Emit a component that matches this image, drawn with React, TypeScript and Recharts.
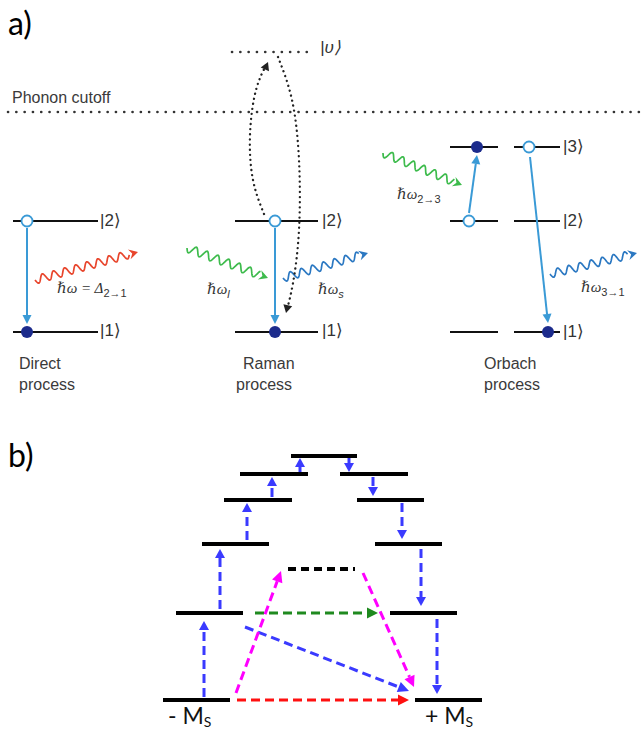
import { ComposedChart, XAxis, YAxis, Scatter, ReferenceLine } from "recharts"

// a) relaxation processes
const cutoffLine = { x1: 8, x2: 641, y: 112 }
const virtualLevel = { x1: 232, x2: 315, y: 52 }

const levelsA = [
  { x1: 13, x2: 98, y: 221 }, { x1: 13, x2: 98, y: 332 },
  { x1: 235, x2: 318, y: 221 }, { x1: 235, x2: 318, y: 332 },
  { x1: 450, x2: 498, y: 147 }, { x1: 514, x2: 560, y: 147 },
  { x1: 450, x2: 498, y: 221 }, { x1: 514, x2: 560, y: 221 },
  { x1: 450, x2: 498, y: 332 }, { x1: 514, x2: 560, y: 332 },
]

const kets = [
  { x: 100, y: 220, text: "|2⟩" }, { x: 100, y: 330, text: "|1⟩" },
  { x: 322, y: 220, text: "|2⟩" }, { x: 322, y: 330, text: "|1⟩" },
  { x: 563, y: 146, text: "|3⟩" }, { x: 563, y: 220, text: "|2⟩" },
  { x: 563, y: 331, text: "|1⟩" }, { x: 320, y: 47, text: "|υ⟩" },
]

const emptyStates = [
  { x: 27, y: 221 }, { x: 275, y: 221 }, { x: 469, y: 221 }, { x: 529, y: 147 },
]
const filledStates = [
  { x: 27, y: 332 }, { x: 275, y: 332 }, { x: 477, y: 147 }, { x: 548, y: 332 },
]

const decays = [
  { x1: 27, y1: 228, x2: 27, y2: 324 },
  { x1: 275, y1: 228, x2: 275, y2: 324 },
  { x1: 469, y1: 213, x2: 477, y2: 155 },
  { x1: 530, y1: 157, x2: 548, y2: 323 },
]

const phononOut = [{ x1: 35, y1: 280, x2: 138, y2: 252 }]
const photonsIn = [
  { x1: 187, y1: 248, x2: 268, y2: 278 },
  { x1: 383, y1: 153, x2: 462, y2: 185 },
]
const photonsOut = [
  { x1: 283, y1: 278, x2: 368, y2: 253 },
  { x1: 550, y1: 274, x2: 637, y2: 253 },
]

const loopUp = [
  { x: 264, y: 214 }, { x: 253, y: 180 }, { x: 250, y: 135 }, { x: 256, y: 90 }, { x: 268, y: 62 },
]
const loopDown = [
  { x: 278, y: 57 }, { x: 292, y: 100 }, { x: 299, y: 160 }, { x: 299, y: 230 }, { x: 293, y: 283 }, { x: 286, y: 313 },
]

const photonLabels = [
  { x: 57, y: 293, main: "ℏω = Δ", sub: "2→1" },
  { x: 207, y: 294, main: "ℏω", sub: "l" },
  { x: 318, y: 294, main: "ℏω", sub: "s" },
  { x: 397, y: 199, main: "ℏω", sub: "2→3" },
  { x: 581, y: 292, main: "ℏω", sub: "3→1" },
]

const captions = [
  { x: 12, y: 103, text: "Phonon cutoff" },
  { x: 19, y: 369, text: "Direct" }, { x: 19, y: 390, text: "process" },
  { x: 243, y: 369, text: "Raman" }, { x: 236, y: 390, text: "process" },
  { x: 484, y: 369, text: "Orbach" }, { x: 484, y: 390, text: "process" },
]

// b) spin ladder
const spinLevels = [
  { x1: 291, x2: 357, y: 456 },
  { x1: 240, x2: 308, y: 474 }, { x1: 340, x2: 408, y: 474 },
  { x1: 224, x2: 292, y: 500 }, { x1: 357, x2: 424, y: 500 },
  { x1: 202, x2: 269, y: 544 }, { x1: 375, x2: 442, y: 544 },
  { x1: 176, x2: 243, y: 613 }, { x1: 390, x2: 457, y: 613 },
  { x1: 163, x2: 230, y: 700 }, { x1: 415, x2: 482, y: 700 },
]
const virtualSpinLevel = { x1: 288, x2: 355, y: 569 }

const climb = [
  { x1: 204, y1: 697, x2: 204, y2: 621 },
  { x1: 220, y1: 609, x2: 220, y2: 549 },
  { x1: 247, y1: 540, x2: 247, y2: 503 },
  { x1: 272, y1: 497, x2: 272, y2: 477 },
  { x1: 300, y1: 472, x2: 300, y2: 458 },
  { x1: 349, y1: 458, x2: 349, y2: 472 },
  { x1: 373, y1: 477, x2: 373, y2: 496 },
  { x1: 402, y1: 503, x2: 402, y2: 539 },
  { x1: 421, y1: 549, x2: 421, y2: 606 },
  { x1: 437, y1: 619, x2: 437, y2: 694 },
]
const tunnel = [{ x1: 255, y1: 613, x2: 378, y2: 613 }]
const thermalTunnel = [{ x1: 245, y1: 627, x2: 409, y2: 691 }]
const ramanSpin = [
  { x1: 236, y1: 693, x2: 281, y2: 571 },
  { x1: 363, y1: 573, x2: 414, y2: 687 },
]
const directSpin = [{ x1: 237, y1: 700, x2: 409, y2: 700 }]

const msLabels = [
  { x: 168, y: 724, main: "- M", sub: "S" },
  { x: 425, y: 724, main: "+ M", sub: "S" },
]
const panelLabels = [
  { x: 8, y: 35, text: "a)" },
  { x: 8, y: 467, text: "b)" },
]

const seg = (a: any) => [{ x: a.x1, y: a.y1 }, { x: a.x2, y: a.y2 }]
const flat = (a: any) => [{ x: a.x1, y: a.y }, { x: a.x2, y: a.y }]

// straight arrow: shaft + triangular head
const arrow = (len: number, half: number, shaft = true) => (p: any) => {
  const { x1, y1, x2, y2, stroke, strokeWidth, strokeDasharray } = p
  const d = Math.hypot(x2 - x1, y2 - y1) || 1
  const ux = (x2 - x1) / d
  const uy = (y2 - y1) / d
  const bx = x2 - ux * len
  const by = y2 - uy * len
  return (
    <g>
      {shaft && (
        <line x1={x1} y1={y1} x2={bx} y2={by} stroke={stroke}
          strokeWidth={strokeWidth} strokeDasharray={strokeDasharray} />
      )}
      <path
        d={`M${x2},${y2}L${bx - uy * half},${by + ux * half}L${bx + uy * half},${by - ux * half}Z`}
        fill={stroke}
      />
    </g>
  )
}

// wavy photon/phonon arrow
const wave = (p: any) => {
  const { x1, y1, x2, y2, stroke } = p
  const d = Math.hypot(x2 - x1, y2 - y1) || 1
  const ux = (x2 - x1) / d
  const uy = (y2 - y1) / d
  const head = 9
  const run = d - head
  let path = ""
  for (let s = 0; s <= run; s += 0.5) {
    const a = 4 * Math.sin((2 * Math.PI * s) / 11.5)
    path += `${s === 0 ? "M" : "L"}${x1 + ux * s - uy * a},${y1 + uy * s + ux * a}`
  }
  const bx = x2 - ux * head
  const by = y2 - uy * head
  return (
    <g>
      <path d={path} fill="none" stroke={stroke} strokeWidth={1.7} />
      <path
        d={`M${x2},${y2}L${bx - uy * 5},${by + ux * 5}L${bx + ux * 3},${by + uy * 3}L${bx + uy * 5},${by - ux * 5}Z`}
        fill={stroke}
      />
    </g>
  )
}

const sans = "'Liberation Sans', Arial, sans-serif"
const serif = "'Liberation Serif', 'DejaVu Serif', serif"

const MathLabel = (p: any) => (
  <text x={p.cx} y={p.cy} fill="#333" fontFamily={serif} fontSize={15} fontStyle="italic">
    {p.payload.main}
    <tspan dy={4} fontSize={11} fontFamily={sans}
      fontStyle={p.payload.sub.length === 1 ? "italic" : "normal"}>{p.payload.sub}</tspan>
  </text>
)

const MsLabel = (p: any) => (
  <text x={p.cx} y={p.cy} fill="#111" fontFamily="Lato, 'Open Sans', sans-serif" fontSize={23}>
    {p.payload.main}
    <tspan dy={3} fontSize={14}>{p.payload.sub}</tspan>
  </text>
)

const BLUE_A = "#3a9ad6"
const NAVY = "#1c2b8c"
const BLUE_B = "#3a3aff"

export default function App() {
  return (
    <div style={{ width: 641, height: 733, background: "#fff" }}>
      <style>{`body{margin:0}`}</style>
      <ComposedChart width={641} height={733} margin={{ top: 0, right: 0, bottom: 0, left: 0 }}>
        <XAxis type="number" dataKey="x" domain={[0, 641]} allowDataOverflow hide />
        <YAxis type="number" dataKey="y" domain={[0, 733]} allowDataOverflow reversed hide />

        <ReferenceLine segment={flat(cutoffLine)} stroke="#333" strokeWidth={2.6}
          strokeDasharray="0.1 8.2" strokeLinecap="round" />
        <ReferenceLine segment={flat(virtualLevel)} stroke="#333" strokeWidth={2.6}
          strokeDasharray="0.1 8.2" strokeLinecap="round" />

        {levelsA.map((l, i) => (
          <ReferenceLine key={`la${i}`} segment={flat(l)} stroke="#111" strokeWidth={2} />
        ))}

        <Scatter data={loopUp} isAnimationActive={false} lineJointType="natural" shape={() => <g />}
          line={{ stroke: "#222", strokeWidth: 2.3, strokeDasharray: "0.1 5", strokeLinecap: "round" }} />
        <Scatter data={loopDown} isAnimationActive={false} lineJointType="natural" shape={() => <g />}
          line={{ stroke: "#222", strokeWidth: 2.3, strokeDasharray: "0.1 5", strokeLinecap: "round" }} />
        <ReferenceLine segment={[loopUp[loopUp.length - 2], loopUp[loopUp.length - 1]]}
          stroke="#222" shape={arrow(8, 4.5, false)} />
        <ReferenceLine segment={[loopDown[loopDown.length - 2], loopDown[loopDown.length - 1]]}
          stroke="#222" shape={arrow(8, 4.5, false)} />

        {decays.map((a, i) => (
          <ReferenceLine key={`dc${i}`} segment={seg(a)} stroke={BLUE_A} strokeWidth={2} shape={arrow(9, 4.5)} />
        ))}
        {phononOut.map((a, i) => (
          <ReferenceLine key={`ph${i}`} segment={seg(a)} stroke="#e8452c" shape={wave} />
        ))}
        {photonsIn.map((a, i) => (
          <ReferenceLine key={`pi${i}`} segment={seg(a)} stroke="#3dbb4c" shape={wave} />
        ))}
        {photonsOut.map((a, i) => (
          <ReferenceLine key={`po${i}`} segment={seg(a)} stroke="#2b78c2" shape={wave} />
        ))}

        {spinLevels.map((l, i) => (
          <ReferenceLine key={`sl${i}`} segment={flat(l)} stroke="#000" strokeWidth={4} />
        ))}
        <ReferenceLine segment={flat(virtualSpinLevel)} stroke="#000" strokeWidth={4} strokeDasharray="8 5" />

        {climb.map((a, i) => (
          <ReferenceLine key={`cl${i}`} segment={seg(a)} stroke={BLUE_B} strokeWidth={3}
            strokeDasharray="9 5" shape={arrow(9, 5)} />
        ))}
        {tunnel.map((a, i) => (
          <ReferenceLine key={`tn${i}`} segment={seg(a)} stroke="#1f8a1f" strokeWidth={3}
            strokeDasharray="9 5" shape={arrow(11, 5.5)} />
        ))}
        {thermalTunnel.map((a, i) => (
          <ReferenceLine key={`tt${i}`} segment={seg(a)} stroke={BLUE_B} strokeWidth={3}
            strokeDasharray="9 5" shape={arrow(11, 5.5)} />
        ))}
        {ramanSpin.map((a, i) => (
          <ReferenceLine key={`rs${i}`} segment={seg(a)} stroke="#ff00ff" strokeWidth={3}
            strokeDasharray="9 5" shape={arrow(11, 5.5)} />
        ))}
        {directSpin.map((a, i) => (
          <ReferenceLine key={`ds${i}`} segment={seg(a)} stroke="#ff1010" strokeWidth={3}
            strokeDasharray="9 5" shape={arrow(11, 5.5)} />
        ))}

        <Scatter data={emptyStates} isAnimationActive={false}
          shape={(p: any) => <circle cx={p.cx} cy={p.cy} r={5.5} fill="#fff" stroke={BLUE_A} strokeWidth={1.8} />} />
        <Scatter data={filledStates} isAnimationActive={false}
          shape={(p: any) => <circle cx={p.cx} cy={p.cy} r={6} fill={NAVY} />} />

        <Scatter data={kets} isAnimationActive={false}
          shape={(p: any) => (
            <text x={p.cx} y={p.cy} dy="0.36em" fill="#333" fontFamily={sans} fontSize={17}
              fontStyle={p.payload.text.includes("υ") ? "italic" : "normal"}>{p.payload.text}</text>
          )} />
        <Scatter data={photonLabels} isAnimationActive={false} shape={MathLabel} />
        <Scatter data={captions} isAnimationActive={false}
          shape={(p: any) => (
            <text x={p.cx} y={p.cy} fill="#3a3a3a" fontFamily={sans} fontSize={16}>{p.payload.text}</text>
          )} />
        <Scatter data={msLabels} isAnimationActive={false} shape={MsLabel} />
        <Scatter data={panelLabels} isAnimationActive={false}
          shape={(p: any) => (
            <text x={p.cx} y={p.cy} fill="#000" fontFamily="Lato, 'Open Sans', sans-serif" fontSize={32}>{p.payload.text}</text>
          )} />
      </ComposedChart>
    </div>
  )
}
